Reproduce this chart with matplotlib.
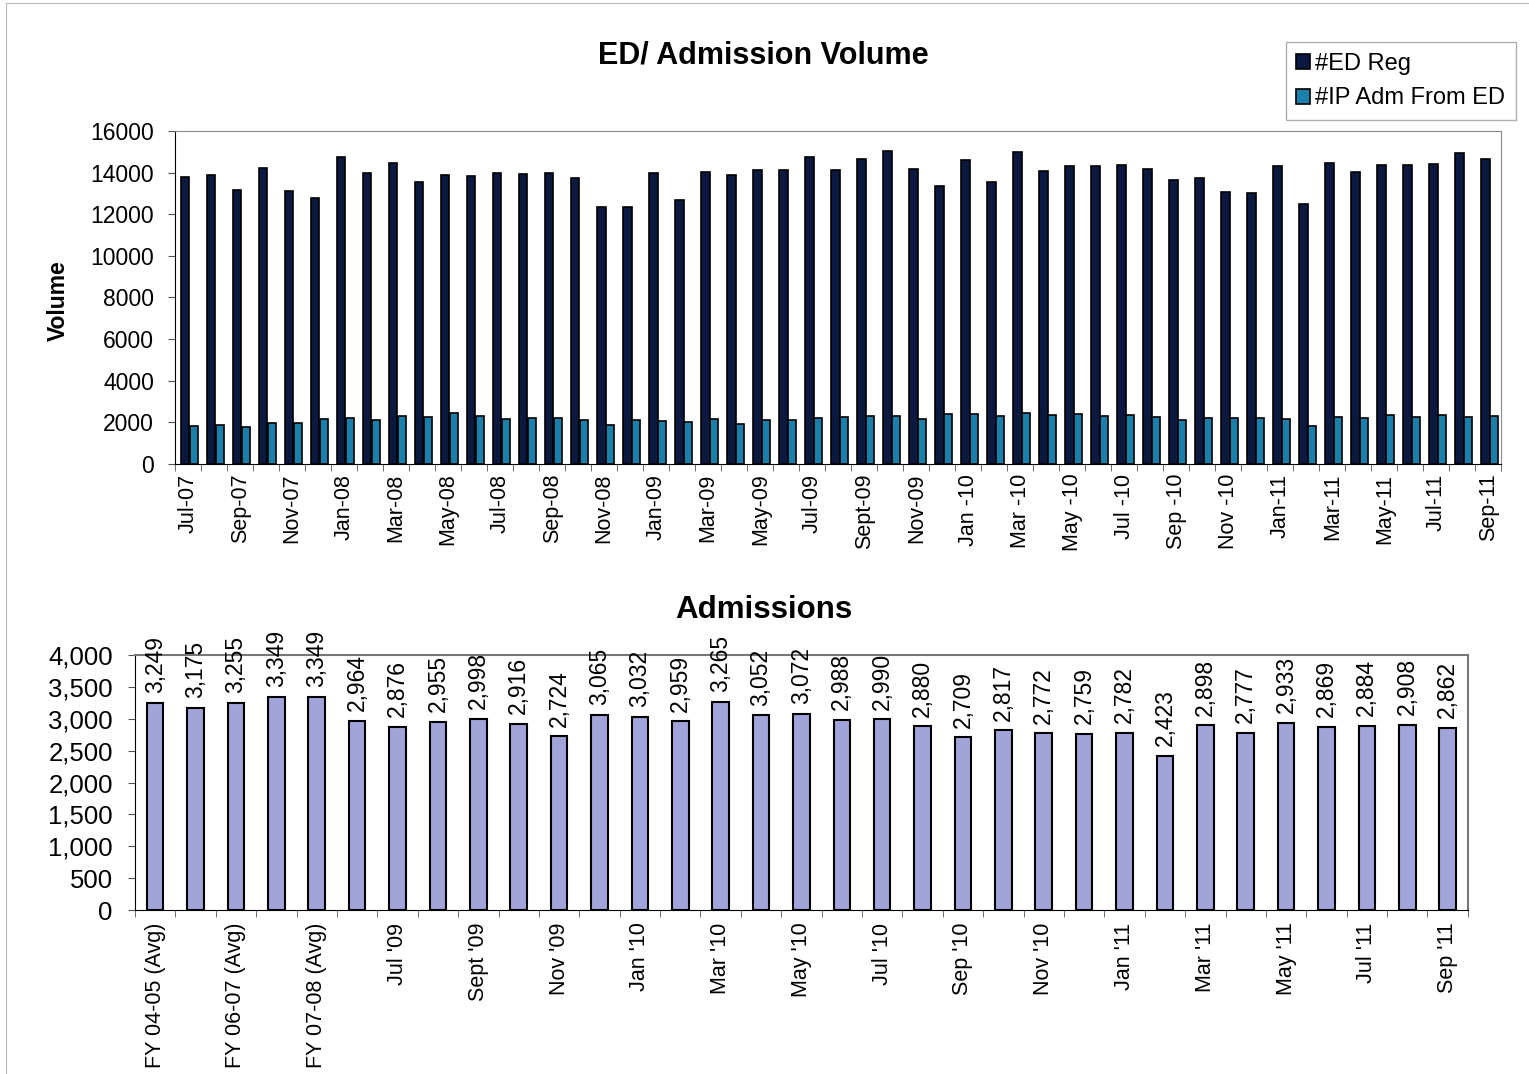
import numpy as np
import matplotlib.pyplot as plt
from matplotlib.lines import Line2D

plt.rcParams['font.family'] = ['Liberation Sans', 'DejaVu Sans']

# top chart: monthly ED registrations and IP admissions from ED
months = ['Jul-07', 'Aug-07', 'Sep-07', 'Oct-07', 'Nov-07', 'Dec-07',
          'Jan-08', 'Feb-08', 'Mar-08', 'Apr-08', 'May-08', 'Jun-08',
          'Jul-08', 'Aug-08', 'Sep-08', 'Oct-08', 'Nov-08', 'Dec-08',
          'Jan-09', 'Feb-09', 'Mar-09', 'Apr-09', 'May-09', 'Jun-09',
          'Jul-09', 'Aug-09', 'Sept-09', 'Oct-09', 'Nov-09', 'Dec-09',
          'Jan -10', 'Feb -10', 'Mar -10', 'Apr -10', 'May -10', 'Jun -10',
          'Jul -10', 'Aug -10', 'Sep -10', 'Oct -10', 'Nov -10', 'Dec -10',
          'Jan-11', 'Feb-11', 'Mar-11', 'Apr-11', 'May-11', 'Jun-11',
          'Jul-11', 'Aug-11', 'Sep-11']
ed_reg = [13800, 13900, 13150, 14200, 13130, 12800, 14750, 14000, 14480, 13540,
          13900, 13840, 13980, 13950, 14000, 13760, 12370, 12340, 14000, 12690,
          14030, 13870, 14130, 14120, 14770, 14150, 14640, 15040, 14160, 13370,
          14590, 13570, 15000, 14060, 14320, 14320, 14380, 14160, 13660, 13730,
          13060, 13010, 14320, 12510, 14480, 14050, 14380, 14360, 14410, 14940,
          14670]
ip_adm = [1840, 1860, 1760, 1980, 1950, 2150, 2190, 2130, 2320, 2270,
          2430, 2300, 2180, 2200, 2220, 2130, 1890, 2110, 2080, 2010,
          2160, 1920, 2100, 2100, 2200, 2270, 2320, 2290, 2160, 2380,
          2400, 2290, 2450, 2330, 2380, 2320, 2330, 2240, 2110, 2200,
          2190, 2190, 2160, 1820, 2250, 2200, 2330, 2240, 2330, 2240,
          2320]

# bottom chart: admissions
periods = ['FY 04-05 (Avg)', 'FY 05-06 (Avg)', 'FY 06-07 (Avg)', 'FY 06-07',
           'FY 07-08 (Avg)', 'FY 08-09 (Avg)',
           "Jul '09", "Aug '09", "Sept '09", "Oct '09", "Nov '09", "Dec '09",
           "Jan '10", "Feb '10", "Mar '10", "Apr '10", "May '10", "Jun '10",
           "Jul '10", "Aug '10", "Sep '10", "Oct '10", "Nov '10", "Dec '10",
           "Jan '11", "Feb '11", "Mar '11", "Apr '11", "May '11", "Jun '11",
           "Jul '11", "Aug '11", "Sep '11"]
admissions = [3249, 3175, 3255, 3349, 3349, 2964, 2876, 2955, 2998, 2916, 2724,
              3065, 3032, 2959, 3265, 3052, 3072, 2988, 2990, 2880, 2709, 2817,
              2772, 2759, 2782, 2423, 2898, 2777, 2933, 2869, 2884, 2908, 2862]

fig = plt.figure(figsize=(15.29, 10.74), dpi=100)

# ---- top chart
ax1 = fig.add_axes([0.1145, 0.568, 0.8675, 0.31])
x = np.arange(len(months))
w = 0.34
ax1.bar(x - w/2 + 0.05, ed_reg, w, color='#0B1840', edgecolor='black', lw=1.2, label='#ED Reg')
ax1.bar(x + w/2 + 0.05, ip_adm, w * 0.9, color='#1A7FAA', edgecolor='black', lw=1.2,
        label='#IP Adm From ED')
ax1.set_xlim(-0.5, len(months) - 0.5)
ax1.set_ylim(0, 16000)
ax1.set_yticks(range(0, 16001, 2000))
ax1.set_xticks(x[::2])
ax1.set_xticklabels(months[::2], rotation=90, fontsize=15.5)
ax1.set_xticks(np.arange(-0.5, len(months)), minor=True)
ax1.tick_params(axis='x', which='major', length=0, pad=7)
ax1.tick_params(axis='x', which='minor', length=5, color='#555555')
ax1.tick_params(axis='y', labelsize=16.5, length=5, pad=10, color='#555555')
for s in ['top', 'right']:
    ax1.spines[s].set_color('#888888')
fig.text(0.038, 0.72, 'Volume', rotation=90, fontsize=16.5, fontweight='bold',
         ha='center', va='center')
fig.text(0.499, 0.948, 'ED/ Admission Volume', fontsize=22, fontweight='bold',
         ha='center', va='center')
fig.legend(loc='upper right', bbox_to_anchor=(0.999, 0.972), fontsize=17,
           fancybox=False, edgecolor='#999999', handlelength=0.6, handleheight=0.6,
           handletextpad=0.2, borderpad=0.45, labelspacing=0.55)

# ---- bottom chart
ax2 = fig.add_axes([0.0883, 0.1527, 0.8717, 0.2374])
xb = np.arange(len(periods))
bars = ax2.bar(xb, admissions, 0.41, color='#A0A4D8', edgecolor='black', lw=1.5)
ax2.bar_label(bars, labels=[f'{v:,}' for v in admissions], rotation=90,
              padding=7, fontsize=16.5, clip_on=False)
ax2.set_xlim(-0.5, len(periods) - 0.5)
ax2.set_ylim(0, 4000)
ax2.set_yticks(range(0, 4001, 500))
ax2.set_yticklabels([f'{v:,}' for v in range(0, 4001, 500)], fontsize=18.5)
ax2.set_xticks(xb[::2])
ax2.set_xticklabels(periods[::2], rotation=90, fontsize=15.5)
ax2.set_xticks(np.arange(-0.5, len(periods)), minor=True)
ax2.tick_params(axis='x', which='major', length=0, pad=9)
ax2.tick_params(axis='x', which='minor', length=5, color='#555555')
ax2.tick_params(axis='y', length=5, pad=11, color='#555555')
for s in ['top', 'right']:
    ax2.spines[s].set_color('#777777')
    ax2.spines[s].set_linewidth(1.5)
fig.text(0.4995, 0.432, 'Admissions', fontsize=22.5, fontweight='bold',
         ha='center', va='center')

# faint page border from the scan
fig.add_artist(Line2D([0.004, 0.004], [0, 0.997], color='#BBBBBB', lw=0.8))
fig.add_artist(Line2D([0.004, 1], [0.997, 0.997], color='#BBBBBB', lw=0.8))

fig.savefig('out.png', dpi=100)
